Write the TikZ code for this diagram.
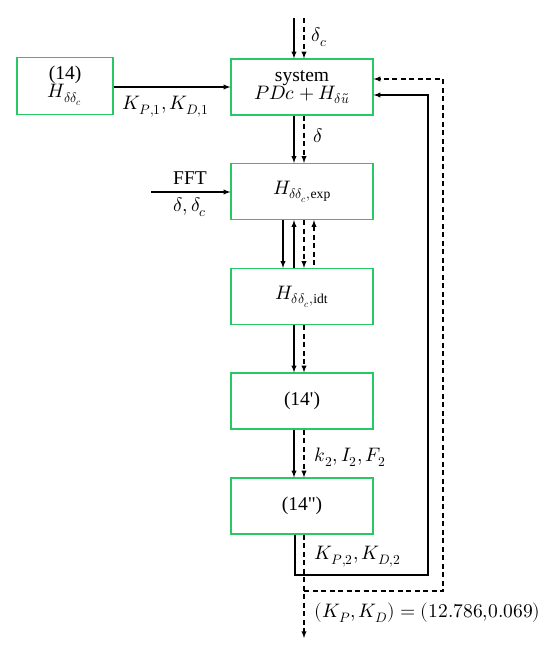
\documentclass[tikz,border=0pt]{standalone}
\usepackage{fontspec}
\usepackage{unicode-math}
\setmainfont{Liberation Serif}[Ligatures=TeXOff]
\setmathfont{Latin Modern Math}
\definecolor{boxgreen}{RGB}{40,200,100}
\begin{document}
\begin{tikzpicture}[x=1pt,y=1pt,line width=1.3pt,>=latex,
  font=\fontsize{19.5}{22}\selectfont,
  block/.style={draw=boxgreen,line width=1.2pt,minimum width=142pt,
    minimum height=56pt,align=center,inner sep=2pt},
  fb/.style={dash pattern=on 5pt off 3.5pt}]
  \useasboundingbox (0,0) rectangle (550,-657);
  % blocks, top to bottom
  \node[block,minimum width=96pt,minimum height=57pt] (ref) at (65,-86)
    {(14)\\[-4pt]$H_{\delta\delta_c}$};
  \node[block] (sys) at (302,-87) {system\\[-4pt]$PDc+H_{\delta\tilde{u}}$};
  \node[block] (exp) at (302,-191.5) {$H_{\delta\delta_c,\mathrm{exp}}$};
  \node[block] (idt) at (302,-296.5) {$H_{\delta\delta_c,\mathrm{idt}}$};
  \node[block] (fourteena) at (302,-401) {(14')};
  \node[block] (fourteenb) at (302,-506) {(14")};
  % free ends
  \coordinate (insolid) at (294,-18);
  \coordinate (indash) at (304,-18);
  \coordinate (fft) at (151,-192);
  \coordinate (solidcorner) at (428,-575);
  \coordinate (split) at (304,-591);
  \coordinate (dashcorner) at (443,-591);
  \coordinate (out) at (304,-638);
  % forward path
  \draw[->] (insolid) -- (insolid|-sys.north);
  \draw[fb,->] (indash) -- (indash|-sys.north);
  \draw[->] (ref.east|-0,-87) -- (sys.west);
  \draw[->] ([xshift=-8pt]sys.south) -- ([xshift=-8pt]exp.north);
  \draw[fb,->] ([xshift=2pt]sys.south) -- ([xshift=2pt]exp.north);
  \draw[->] (fft) -- (fft-|exp.west);
  \draw[->] ([xshift=-19pt]exp.south) -- ([xshift=-19pt]idt.north);
  \draw[<-] ([xshift=-8pt]exp.south) -- ([xshift=-8pt]idt.north);
  \draw[fb,->] ([xshift=2pt]exp.south) -- ([xshift=2pt]idt.north);
  \draw[fb,<-] ([xshift=12pt]exp.south) -- ([xshift=12pt]idt.north);
  \draw[->] ([xshift=-8pt]idt.south) -- ([xshift=-8pt]fourteena.north);
  \draw[fb,->] ([xshift=2pt]idt.south) -- ([xshift=2pt]fourteena.north);
  \draw[->] ([xshift=-8pt]fourteena.south) -- ([xshift=-8pt]fourteenb.north);
  \draw[fb,->] ([xshift=2pt]fourteena.south) -- ([xshift=2pt]fourteenb.north);
  % feedback to the system
  \draw[->] ([xshift=-7pt]fourteenb.south) |- (solidcorner)
    |- ([yshift=-8pt]sys.east);
  \draw[fb,->] ([xshift=2pt]fourteenb.south) -- (out);
  \draw[fb,->] (split) -- (dashcorner) |- ([yshift=8pt]sys.east);
  % labels
  \node[right] (lbldc) at (308,-37) {$\delta_c$};
  \node (lblk1) at (166,-107) {$K_{P,1},K_{D,1}$};
  \node[right] (lbld) at (310,-136) {$\delta$};
  \node (lblfft) at (190,-178) {FFT};
  \node (lblsig) at (190,-207) {$\delta,\delta_c$};
  \node[right] (lblkif) at (311,-457) {$k_2,I_2,F_2$};
  \node[right] (lblk2) at (311,-557) {$K_{P,2},K_{D,2}$};
  \node[right] (lblres) at (311,-613) {$(K_P,K_D)=(12.786{,}0.069)$};
\end{tikzpicture}
\end{document}
